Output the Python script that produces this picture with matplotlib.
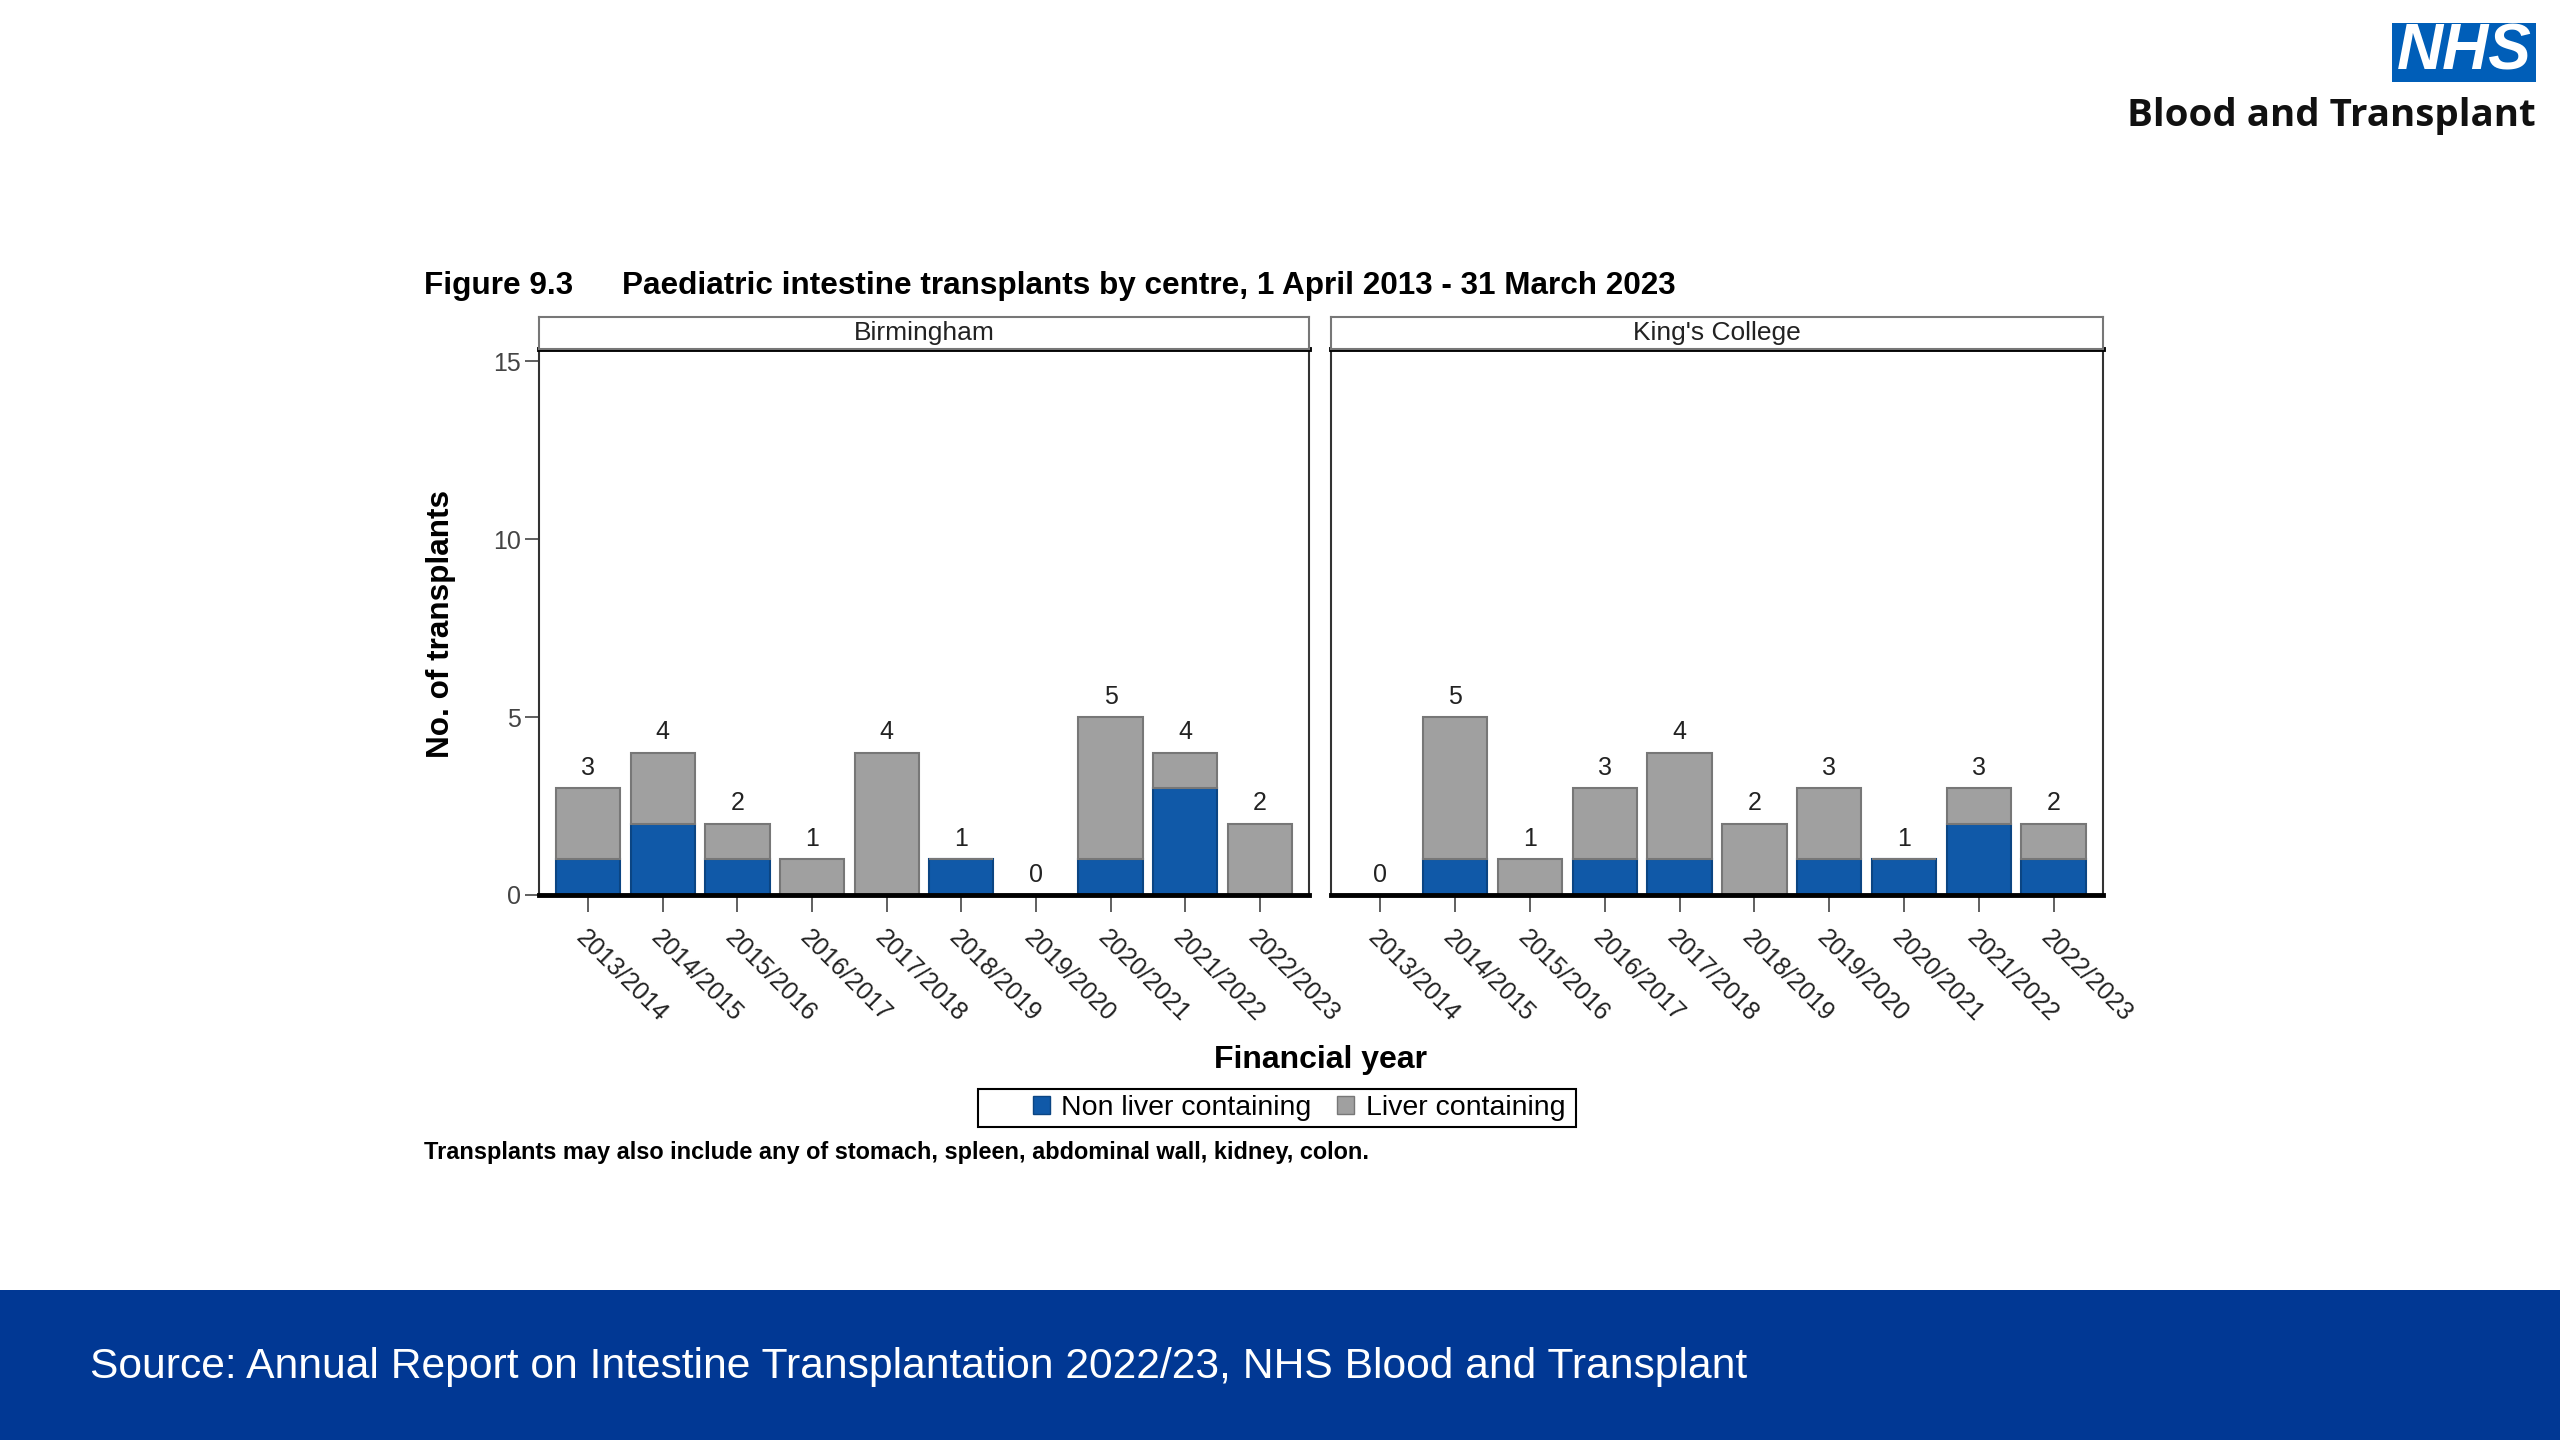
import matplotlib
matplotlib.use("Agg")
import matplotlib.pyplot as plt
from matplotlib.patches import Rectangle, Patch
import numpy as np

plt.rcParams['font.family'] = ['Liberation Sans', 'DejaVu Sans']

years = ["2013/2014", "2014/2015", "2015/2016", "2016/2017", "2017/2018",
         "2018/2019", "2019/2020", "2020/2021", "2021/2022", "2022/2023"]
centres = ["Birmingham", "King's College"]
birmingham_non_liver = [1, 2, 1, 0, 0, 1, 0, 1, 3, 0]
birmingham_liver = [2, 2, 1, 1, 4, 0, 0, 4, 1, 2]
kings_non_liver = [0, 1, 0, 1, 1, 0, 1, 1, 2, 1]
kings_liver = [0, 4, 1, 2, 3, 2, 2, 0, 1, 1]
series_labels = ["Non liver containing", "Liver containing"]
yticks = [0, 5, 10, 15]

BLUE = '#1059a8'
BLUE_EDGE = '#0b4583'
GRAY = '#a0a0a0'
GRAY_EDGE = '#777777'
BAND = '#013894'
NHS_BLUE = '#005EB8'

W, H = 2560, 1440
fig = plt.figure(figsize=(25.6, 14.4), dpi=100)

def fx(px):
    return px / W

def fy(py):
    return 1 - py / H

panels = [(539, 1309), (1331, 2103)]
top_px, zero_px, strip_top_px = 349, 895, 317
data = [(birmingham_non_liver, birmingham_liver), (kings_non_liver, kings_liver)]

x = np.arange(len(years))
for i, ((l, r), centre, (nl, lv)) in enumerate(zip(panels, centres, data)):
    ax = fig.add_axes([fx(l), fy(zero_px), fx(r - l), (zero_px - top_px) / H])
    nl = np.array(nl)
    lv = np.array(lv)
    ax.bar(x, nl, width=0.86, color=BLUE, edgecolor=BLUE_EDGE, linewidth=1.5, zorder=2)
    ax.bar(x, lv, width=0.86, bottom=nl, color=GRAY, edgecolor=GRAY_EDGE, linewidth=1.5, zorder=2)
    tot = nl + lv
    for xi, t in zip(x, tot):
        ax.annotate(str(t), (xi, t), xytext=(0, 6), textcoords='offset points',
                    ha='center', va='bottom', fontsize=18, color='#222222')
    ax.set_xlim(-0.66, 9.66)
    ax.set_ylim(0, 15.34)
    ax.set_xticks(x)
    ax.set_xticklabels(years, fontsize=18, color='#222222')
    for lab in ax.get_xticklabels():
        lab.set_rotation(-45)
        lab.set_ha('left')
        lab.set_va('top')
        lab.set_rotation_mode('anchor')
    ax.tick_params(axis='x', direction='out', length=12, width=1.2, color='#444444', pad=10)
    if i == 0:
        ax.set_yticks(yticks)
        ax.set_yticklabels([str(v) for v in yticks], fontsize=18, color='#444444')
        ax.tick_params(axis='y', direction='out', length=10, width=1.2, color='#444444', pad=3)
    else:
        ax.set_yticks([])
    for s in ['left', 'right']:
        ax.spines[s].set_color('#333333')
        ax.spines[s].set_linewidth(1.5)
    ax.spines['bottom'].set_color('black')
    ax.spines['bottom'].set_linewidth(3.5)
    ax.spines['top'].set_color('black')
    ax.spines['top'].set_linewidth(3.5)
    ax.set_facecolor('white')
    # strip
    sax = fig.add_axes([fx(l), fy(top_px), fx(r - l), (top_px - strip_top_px) / H])
    sax.set_xticks([])
    sax.set_yticks([])
    for s in sax.spines.values():
        s.set_color('#777777')
        s.set_linewidth(1.5)
    sax.text(0.5, 0.5, centre, ha='center', va='center', fontsize=19, color='#222222',
             transform=sax.transAxes)

# Titles and labels
fig.text(fx(424), fy(286), "Figure 9.3", fontsize=22.7, fontweight='bold', ha='left', va='center')
fig.text(fx(622), fy(286), "Paediatric intestine transplants by centre, 1 April 2013 - 31 March 2023",
         fontsize=22.7, fontweight='bold', ha='left', va='center')
fig.text(fx(441), fy(624), "No. of transplants", fontsize=22.7, fontweight='bold',
         rotation=90, ha='center', va='center')
fig.text(fx(1321), fy(1060), "Financial year", fontsize=23, fontweight='bold', ha='center', va='center')

# legend frame drawn separately (wide left padding as in reference)
fig.patches.append(Rectangle((fx(978), fy(1127)), fx(1576 - 978), (1127 - 1089) / H,
                             transform=fig.transFigure, facecolor='white', edgecolor='black',
                             linewidth=1.5, zorder=1))
handles = [Patch(facecolor=BLUE, edgecolor=BLUE_EDGE), Patch(facecolor=GRAY, edgecolor=GRAY_EDGE)]
leg = fig.legend(handles, series_labels, loc='center right', bbox_to_anchor=(fx(1565), fy(1108)),
                 ncol=2, fontsize=20.5, frameon=False,
                 handlelength=0.6, handleheight=0.6, handletextpad=0.4, columnspacing=0.9,
                 borderpad=0.0, borderaxespad=0)
leg.set_zorder(3)

fig.text(fx(424), fy(1152), "Transplants may also include any of stomach, spleen, abdominal wall, kidney, colon.",
         fontsize=16.9, fontweight='bold', ha='left', va='center')

# Bottom band
fig.patches.append(Rectangle((0, 0), 1, fy(1290), transform=fig.transFigure,
                             facecolor=BAND, edgecolor='none', zorder=0))
fig.text(fx(90), fy(1367), "Source: Annual Report on Intestine Transplantation 2022/23, NHS Blood and Transplant",
         fontsize=30.7, color='white', ha='left', va='center')

# NHS logo
fig.patches.append(Rectangle((fx(2392), fy(82)), fx(144), (82 - 23) / H, transform=fig.transFigure,
                             facecolor=NHS_BLUE, edgecolor='none'))
fig.text(fx(2464), fy(53), "NHS", fontsize=46, fontweight='bold', fontstyle='italic', color='white',
         ha='center', va='center', family=['Liberation Sans', 'DejaVu Sans'])
fig.text(fx(2536), fy(116), "Blood and Transplant", fontsize=27.7, fontweight='bold', color='#111111',
         ha='right', va='center', family=['Open Sans', 'DejaVu Sans'])

fig.savefig("out.png", dpi=100, facecolor='white')
